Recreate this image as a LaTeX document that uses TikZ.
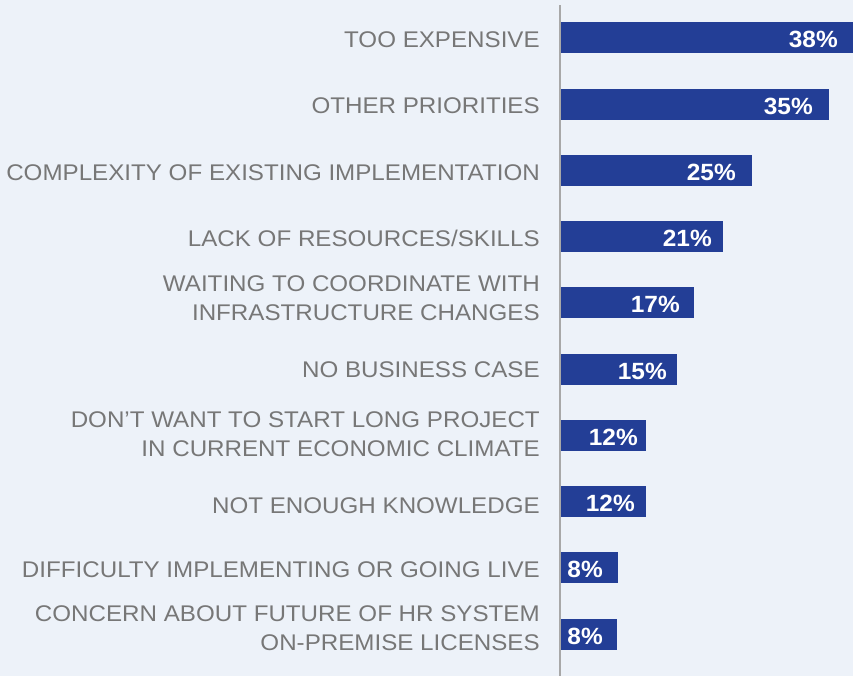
\documentclass[tikz,border=0pt]{standalone}
\usepackage{fontspec}
\setmainfont{Liberation Sans}
\newfontfamily\labfont[FakeStretch=1.066]{Liberation Sans}
\newfontfamily\pctfont[FakeStretch=1.04]{Liberation Sans}
\definecolor{bgc}{HTML}{EDF2F9}
\definecolor{barc}{HTML}{233E96}
\definecolor{labc}{HTML}{777777}
\definecolor{axc}{HTML}{A8A8A8}
\tikzset{
  lab/.style={anchor=base east, inner sep=0pt, text=labc, font=\labfont\fontsize{17}{20}\selectfont},
  pct/.style={anchor=base east, inner sep=0pt, text=white, font=\pctfont\bfseries\fontsize{17.6}{20}\selectfont},
  barbox/.style={fill=barc, draw=none}
}
\begin{document}
\begin{tikzpicture}[x=0.75pt,y=-0.75pt]
\fill[bgc] (0,0) rectangle (853,676);
\useasboundingbox (0,0) rectangle (853,676);
% bars
\fill[barbox] (560,22) rectangle (853,53);
\fill[barbox] (560,89) rectangle (829,120);
\fill[barbox] (560,155) rectangle (752,186);
\fill[barbox] (560,221) rectangle (723,252);
\fill[barbox] (560,287) rectangle (694,318);
\fill[barbox] (560,354) rectangle (677,385);
\fill[barbox] (560,420) rectangle (646,451);
\fill[barbox] (560,486) rectangle (646,517);
\fill[barbox] (560,552) rectangle (618,583);
\fill[barbox] (560,619) rectangle (617,650);
% axis
\coordinate (axtop) at (560,5);
\coordinate (axbot) at (560,676);
\draw[axc, line width=1.5pt] (axtop) -- (axbot);
% percentages
\node[pct] (p1) at (838,47) {38\%};
\node[pct] (p2) at (813,114) {35\%};
\node[pct] (p3) at (736,180) {25\%};
\node[pct] (p4) at (712,246) {21\%};
\node[pct] (p5) at (680,312) {17\%};
\node[pct] (p6) at (667,379) {15\%};
\node[pct] (p7) at (638,445) {12\%};
\node[pct] (p8) at (635,511) {12\%};
\node[pct] (p9) at (603,577) {8\%};
\node[pct] (p10) at (603,644) {8\%};
% labels
\node[lab] (l1) at (540,47) {TOO EXPENSIVE};
\node[lab] (l2) at (540,113) {OTHER PRIORITIES};
\node[lab] (l3) at (540,180) {COMPLEXITY OF EXISTING IMPLEMENTATION};
\node[lab] (l4) at (540,246) {LACK OF RESOURCES/SKILLS};
\node[lab] (l5a) at (540,291) {WAITING TO COORDINATE WITH};
\node[lab] (l5b) at (540,320) {INFRASTRUCTURE CHANGES};
\node[lab] (l6) at (540,377) {NO BUSINESS CASE};
\node[lab] (l7a) at (540,427) {DON’T WANT TO START LONG PROJECT};
\node[lab] (l7b) at (540,456) {IN CURRENT ECONOMIC CLIMATE};
\node[lab] (l8) at (540,513) {NOT ENOUGH KNOWLEDGE};
\node[lab] (l9) at (540,577) {DIFFICULTY IMPLEMENTING OR GOING LIVE};
\node[lab] (l10a) at (540,621) {CONCERN ABOUT FUTURE OF HR SYSTEM};
\node[lab] (l10b) at (540,650) {ON-PREMISE LICENSES};
\end{tikzpicture}
\end{document}
